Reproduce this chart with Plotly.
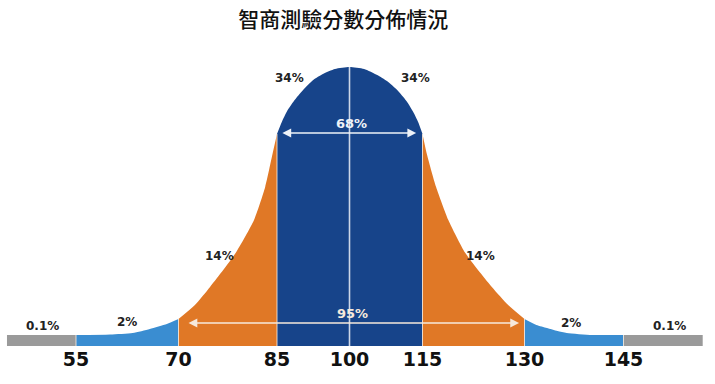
import numpy as np
import plotly.graph_objects as go

# ---------------- data ----------------
TITLE = "智商測驗分數分佈情況"
TICK_SCORES = [55, 70, 85, 100, 115, 130, 145]

# curve outline: IQ score -> curve height (arbitrary units, baseline = 0)
CURVE_SCORE = [55, 60, 63.3, 65.8, 68.3, 70,
               72.5, 74.8, 78.7, 81.5, 83.2, 84.35, 85,
               86, 87.1, 88.5, 90.4, 92.5, 94.5, 97, 100, 103, 105.7, 107.7, 109.8, 111.7, 113.1, 114.1, 115,
               115.6, 117.0, 118.8, 121.3, 125.2, 127.6, 130,
               131.8, 133.4, 135, 136.4, 140.3, 145]
CURVE_HEIGHT = [11, 11.5, 13, 17, 22, 27,
                41, 59, 93, 126, 159, 193, 212,
                224, 235, 245, 256, 266, 272, 277, 279, 277, 271, 265, 256, 245, 234, 224, 212,
                193, 159, 126, 93, 59, 41, 27,
                21, 18, 15, 13, 11, 11]

# shaded bands: (from score, to score, colour)
BANDS = [(55, 70, "#3a8dd1"), (70, 85, "#e07826"), (85, 115, "#17448a"),
         (115, 130, "#e07826"), (130, 145, "#3a8dd1")]
# grey tails beyond 3 sigma
TAIL_RANGES = [(44.9, 55), (145, 157)]
TAIL_HEIGHT = 11

# percentage labels: text, score, height
PCT_LABELS = [("0.1%", 50.1, 20), ("2%", 62.5, 24), ("14%", 76.3, 90), ("34%", 87.5, 268),
              ("34%", 113.5, 268), ("14%", 123.5, 90), ("2%", 137.0, 23.5), ("0.1%", 151.9, 20)]
SPAN_LABELS = [("68%", 100.5, 223, 85.8, 113.7, 213, "#eef2f8"),
               ("95%", 100.7, 33, 71.3, 129.2, 23, "#f6e9dc")]

# ---------------- horizontal scale (stylised: centre band compressed) ----------------
SEG_PX = [102.5, 98.5, 72.5, 73, 102, 99]
KNOTS = np.concatenate([[0], np.cumsum(SEG_PX)])


def sx(s):
    s = np.asarray(s, dtype=float)
    out = np.interp(s, TICK_SCORES, KNOTS)
    lo = s < TICK_SCORES[0]
    hi = s > TICK_SCORES[-1]
    out = np.where(lo, (s - TICK_SCORES[0]) * SEG_PX[0] / 15, out)
    out = np.where(hi, KNOTS[-1] + (s - TICK_SCORES[-1]) * SEG_PX[-1] / 15, out)
    return out


cs = np.array(CURVE_SCORE)
ch = np.array(CURVE_HEIGHT)

fig = go.Figure()

# grey tails
for a, b in TAIL_RANGES:
    fig.add_trace(go.Scatter(x=sx([a, b]), y=[TAIL_HEIGHT, TAIL_HEIGHT], mode="lines",
                             line=dict(width=0, color="#9a9a9a"), fill="tozeroy",
                             fillcolor="#9a9a9a", hoverinfo="skip", showlegend=False))

# coloured bands under the curve
for a, b, col in BANDS:
    m = (cs >= a) & (cs <= b)
    fig.add_trace(go.Scatter(x=sx(cs[m]), y=ch[m], mode="lines",
                             line=dict(width=0, color=col, shape="spline", smoothing=0.6),
                             fill="tozeroy", fillcolor=col, hoverinfo="skip", showlegend=False))

# thin dividers between bands
for s in [55, 70, 85, 115, 130, 145]:
    h = float(np.interp(s, cs, ch))
    fig.add_trace(go.Scatter(x=sx([s, s]), y=[0, h], mode="lines",
                             line=dict(width=1, color="rgba(245,232,218,0.85)"),
                             hoverinfo="skip", showlegend=False))
# centre line
fig.add_trace(go.Scatter(x=sx([100, 100]), y=[0, max(CURVE_HEIGHT)], mode="lines",
                         line=dict(width=1.6, color="rgba(225,232,242,0.9)"),
                         hoverinfo="skip", showlegend=False))

annotations = []
for txt, s, h in PCT_LABELS:
    annotations.append(dict(x=float(sx(s)), y=h, text=txt, showarrow=False,
                            font=dict(family="DejaVu Sans", size=12, color="#222222", weight="bold")))
for txt, s, h, a, b, ah, col in SPAN_LABELS:
    annotations.append(dict(x=float(sx(s)), y=h, text=txt, showarrow=False,
                            font=dict(family="DejaVu Sans", size=13, color=col, weight="bold")))
    annotations.append(dict(x=float(sx(b)), y=ah, ax=float(sx(a)), ay=ah, axref="x", ayref="y",
                            xref="x", yref="y", text="", showarrow=True, arrowside="end+start",
                            arrowhead=2, arrowsize=1.1, arrowwidth=1.6, arrowcolor=col))

fig.update_layout(
    width=715, height=384,
    margin=dict(l=0, r=0, t=40, b=38),
    paper_bgcolor="white", plot_bgcolor="white",
    title=dict(text=TITLE, x=0.48, xanchor="center", y=1 - 20 / 384, yanchor="middle",
               yref="container",
               font=dict(family="Noto Sans CJK TC", size=21, color="#111111", weight=500)),
    xaxis=dict(range=[-76, 639], tickvals=list(sx(TICK_SCORES)),
               ticktext=[str(t) for t in TICK_SCORES], showgrid=False, zeroline=False,
               showline=False, ticks="", fixedrange=True,
               tickfont=dict(family="DejaVu Sans", size=19, color="#111111", weight="bold")),
    yaxis=dict(range=[0, 306], visible=False, fixedrange=True),
    annotations=annotations,
    showlegend=False,
)

fig.write_html("out.html", config={"displayModeBar": False, "staticPlot": True},
               post_script="document.body.style.margin='0';document.body.style.overflow='hidden';")
